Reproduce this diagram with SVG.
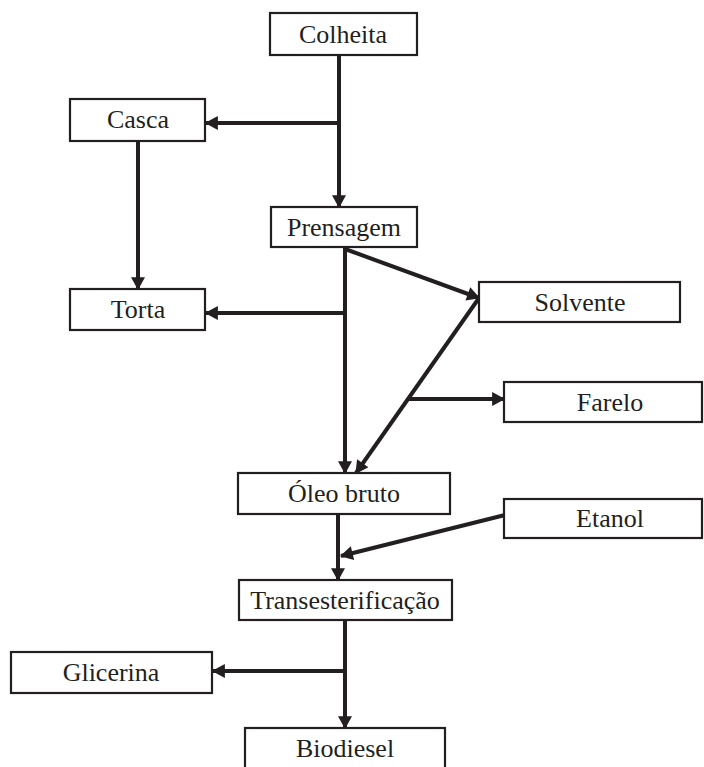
<svg xmlns="http://www.w3.org/2000/svg" width="704" height="767" viewBox="0 0 704 767">
<style>
.box{fill:#fff;stroke:#231f20;stroke-width:2.2}
.lbl{font-family:"Liberation Serif","Times New Roman",serif;font-size:26px;fill:#231f20;text-anchor:middle}
.c{stroke:#231f20;stroke-width:4;fill:none}
.a{marker-end:url(#ah)}
</style>
<defs>
<marker id="ah" markerUnits="userSpaceOnUse" markerWidth="14" markerHeight="14" viewBox="0 0 12 13" refX="11" refY="6.5" orient="auto">
<path d="M0,0 L12,6.5 L0,13 z" fill="#231f20"/>
</marker>
</defs>
<rect width="704" height="767" fill="#fff"/>
<g id="connectors">
<line class="c a" x1="339" y1="55" x2="339" y2="207"/>
<line class="c a" x1="339" y1="123" x2="206" y2="123"/>
<line class="c a" x1="138" y1="141" x2="138" y2="289"/>
<line class="c a" x1="345" y1="247" x2="345" y2="473"/>
<line class="c a" x1="345" y1="313" x2="206" y2="313"/>
<line class="c a" x1="345" y1="249" x2="479" y2="298"/>
<line class="c a" x1="479" y1="298" x2="356" y2="473"/>
<line class="c a" x1="408" y1="399" x2="504" y2="399"/>
<line class="c a" x1="338" y1="514" x2="338" y2="580"/>
<line class="c a" x1="505" y1="515" x2="341" y2="556"/>
<line class="c a" x1="345" y1="620" x2="345" y2="728"/>
<line class="c a" x1="345" y1="671" x2="213" y2="671"/>
</g>
<g id="colheita"><rect class="box" x="270" y="13" width="147" height="42"/><text class="lbl" x="343" y="43">Colheita</text></g>
<g id="casca"><rect class="box" x="70" y="99" width="135" height="42"/><text class="lbl" x="138" y="128">Casca</text></g>
<g id="prensagem"><rect class="box" x="271" y="207" width="146" height="40"/><text class="lbl" x="344" y="236">Prensagem</text></g>
<g id="torta"><rect class="box" x="70" y="289" width="135" height="41"/><text class="lbl" x="138" y="318">Torta</text></g>
<g id="solvente"><rect class="box" x="479" y="282" width="201" height="40"/><text class="lbl" x="580" y="311">Solvente</text></g>
<g id="farelo"><rect class="box" x="504" y="382" width="198" height="40"/><text class="lbl" x="610" y="411">Farelo</text></g>
<g id="oleo"><rect class="box" x="238" y="473" width="212" height="41"/><text class="lbl" x="344" y="502">Óleo bruto</text></g>
<g id="etanol"><rect class="box" x="504" y="499" width="198" height="39"/><text class="lbl" x="610" y="527">Etanol</text></g>
<g id="trans"><rect class="box" x="239" y="580" width="213" height="40"/><text class="lbl" x="345" y="609">Transesterificação</text></g>
<g id="glicerina"><rect class="box" x="11" y="652" width="201" height="41"/><text class="lbl" x="111" y="681">Glicerina</text></g>
<g id="biodiesel"><rect class="box" x="245" y="728" width="200" height="48"/><text class="lbl" x="345" y="757">Biodiesel</text></g>
</svg>
